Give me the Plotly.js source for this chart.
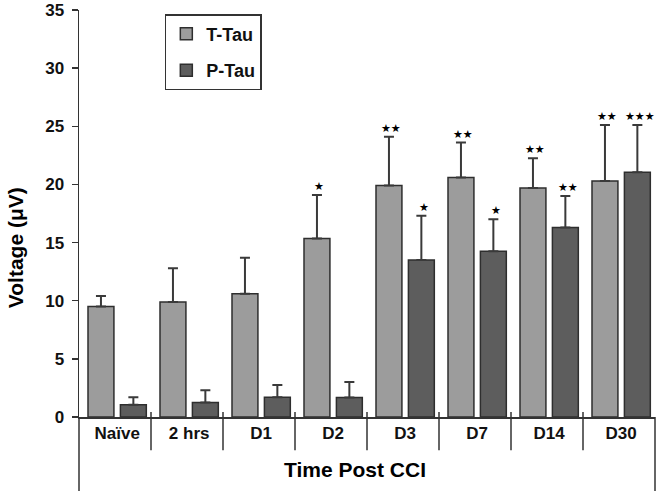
<!DOCTYPE html>
<html>
<head>
<meta charset="utf-8">
<script src="https://cdn.plot.ly/plotly-3.0.1.min.js"></script>
<style>html,body{margin:0;padding:0;background:#fff;}#chart{width:660px;height:491px;}</style>
</head>
<body>
<div id="chart"></div>
<script>
const categories = ["Naïve", "2 hrs", "D1", "D2", "D3", "D7", "D14", "D30"];
const tTau = [9.5, 9.9, 10.6, 15.35, 19.9, 20.6, 19.7, 20.3];
const tTauErr = [0.9, 2.9, 3.1, 3.75, 4.2, 3.0, 2.55, 4.8];
const pTau = [1.05, 1.25, 1.7, 1.68, 13.5, 14.25, 16.3, 21.05];
const pTauErr = [0.65, 1.05, 1.05, 1.32, 3.8, 2.75, 2.7, 4.05];
const tSig = ["", "", "", "★", "★★", "★★", "★★", "★★"];
const pSig = ["", "", "", "", "★", "★", "★★", "★★★"];
const yTicks = [0, 5, 10, 15, 20, 25, 30, 35];

const FONT = "Liberation Sans, Arial, sans-serif";
const zeros = categories.map(() => 0);

const traces = [
  {
    type: "bar", name: "T-Tau", x: categories, y: tTau, legendgroup: "t",
    marker: {color: "#9c9c9c", line: {color: "#2e2e2e", width: 1.5}},
    error_y: {type: "data", array: tTauErr, arrayminus: zeros, symmetric: false,
              color: "#3a3a3a", thickness: 2, width: 5}
  },
  {
    type: "bar", name: "P-Tau", x: categories, y: pTau, legendgroup: "p",
    marker: {color: "#5d5d5d", line: {color: "#2e2e2e", width: 1.5}},
    error_y: {type: "data", array: pTauErr, arrayminus: zeros, symmetric: false,
              color: "#3a3a3a", thickness: 2, width: 5}
  }
];

const annotations = [];
categories.forEach((c, i) => {
  if (tSig[i]) annotations.push({x: c, y: tTau[i] + tTauErr[i], xref: "x", yref: "y",
    text: tSig[i], showarrow: false, xshift: -14, yshift: 0, yanchor: "bottom",
    font: {family: "DejaVu Sans", size: 11, color: "#000"}});
  if (pSig[i]) annotations.push({x: c, y: pTau[i] + pTauErr[i], xref: "x", yref: "y",
    text: pSig[i], showarrow: false, xshift: 19, yshift: 0, yanchor: "bottom",
    font: {family: "DejaVu Sans", size: 11, color: "#000"}});
});
annotations.push({x: 0.48, y: -0.129, xref: "paper", yref: "paper", showarrow: false,
  text: "<b>Time Post CCI</b>", yanchor: "middle", xanchor: "center",
  font: {family: FONT, size: 21, color: "#000"}});
annotations.push({x: -0.111, y: 0.415, xref: "paper", yref: "paper", showarrow: false,
  text: "<b>Voltage (μV)</b>", textangle: -90, yanchor: "middle", xanchor: "center",
  font: {family: FONT, size: 21, color: "#000"}});

const shapes = [];
const lineStyle = {color: "#333", width: 1.5};
shapes.push({type: "line", xref: "paper", yref: "paper", x0: 0, x1: 0, y0: 0, y1: -0.19, line: lineStyle});
shapes.push({type: "line", xref: "paper", yref: "paper", x0: 1, x1: 1, y0: 0, y1: -0.19, line: lineStyle});
for (let i = 1; i < categories.length; i++) {
  shapes.push({type: "line", xref: "paper", yref: "paper", x0: i / categories.length, x1: i / categories.length,
    y0: 0.012, y1: -0.082, line: lineStyle});
}

const layout = {
  width: 660, height: 491,
  margin: {l: 79, r: 5, t: 10, b: 74},
  paper_bgcolor: "#fff", plot_bgcolor: "#fff",
  font: {family: FONT, color: "#111"},
  barmode: "group", bargap: 0.1, bargroupgap: 0.2,
  showlegend: true,
  legend: {x: 0.149, y: 0.99, xanchor: "left", yanchor: "top",
    bordercolor: "#333", borderwidth: 1.5, bgcolor: "#fff",
    traceorder: "grouped", tracegroupgap: 10, itemwidth: 30,
    font: {family: FONT, size: 18, color: "#111", weight: "bold"}},
  xaxis: {
    type: "category", range: [-0.53, 7.47], showline: true, linecolor: "#333", linewidth: 1.5,
    ticks: "", showgrid: false, zeroline: false, fixedrange: true,
    tickfont: {family: FONT, size: 17, color: "#111", weight: "bold"}
  },
  yaxis: {
    range: [0, 35], tickvals: yTicks, showline: true, linecolor: "#333", linewidth: 1.5,
    ticks: "outside", ticklen: 6, tickwidth: 1.5, tickcolor: "#333", ticklabelstandoff: 4,
    showgrid: false, zeroline: false,
    tickfont: {family: FONT, size: 17, color: "#111", weight: "bold"}
  },
  annotations: annotations,
  shapes: shapes
};

Plotly.newPlot("chart", traces, layout, {staticPlot: true, displayModeBar: false});
</script>
</body>
</html>
